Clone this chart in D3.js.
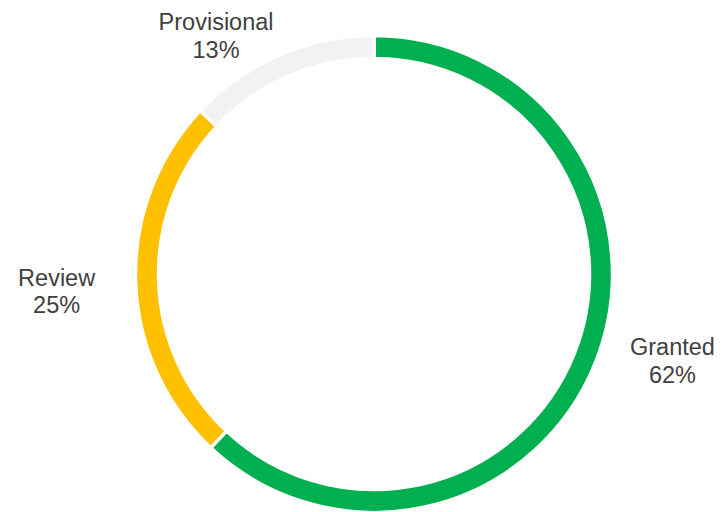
<!DOCTYPE html>
<html>
<head>
<meta charset="utf-8">
<script src="https://cdn.jsdelivr.net/npm/d3@7"></script>
<style>
  html, body { margin: 0; padding: 0; background: #fff; }
  svg { display: block; }
</style>
</head>
<body>
<svg id="chart" width="728" height="512"></svg>
<script>
const categories = ["Granted", "Review", "Provisional"];
const values = [62, 25, 13];
const colors = ["#00B050", "#FFC000", "#F2F2F2"];

const W = 728, H = 512;
const cx = 374, cy = 274;
const outerR = 238.5, innerR = 215.5;
const fontSize = 23.5, lineH = 27.5;

const svg = d3.select("#chart");
const g = svg.append("g").attr("transform", `translate(${cx},${cy})`);

const data = categories.map((c, i) => ({ name: c, value: values[i], color: colors[i] }));
const pie = d3.pie().value(d => d.value).sort(null);
const arcs = pie(data);
const arc = d3.arc().innerRadius(innerR).outerRadius(outerR);

g.selectAll("path.slice")
  .data(arcs)
  .join("path")
  .attr("class", "slice")
  .attr("d", arc)
  .attr("fill", d => d.data.color)
  .attr("stroke", "#fff")
  .attr("stroke-width", 3.5);

const total = d3.sum(values);
const fmt = v => Math.round(v / total * 100) + "%";

const labels = g.selectAll("g.lbl")
  .data(arcs)
  .join("g")
  .attr("class", "lbl");

labels.each(function(d) {
  const sel = d3.select(this);
  const t = sel.append("text")
    .attr("text-anchor", "middle")
    .attr("font-family", "Arial, 'Liberation Sans', sans-serif")
    .attr("font-size", fontSize)
    .attr("fill", "#404040");
  t.append("tspan").attr("x", 0).attr("y", -lineH / 2 + fontSize * 0.36).text(d.data.name);
  t.append("tspan").attr("x", 0).attr("y", lineH / 2 + fontSize * 0.36).text(fmt(d.data.value));
  const bb = t.node().getBBox();
  const w = bb.width, h = lineH * 2 - 4;
  const a = (d.startAngle + d.endAngle) / 2;
  const s = Math.sin(a), c = -Math.cos(a);
  const R = outerR + 40;
  let x = (R + w / 2) * s;
  let y = 0.74 * R * c + 10.5;
  // labels near the top are pinned to the top edge and slid sideways to clear the ring
  if (c < -0.8) {
    y = -cy + h / 2 + 10;
    const edgeY = Math.abs(y) - h / 2;
    const dx = Math.sqrt(Math.max(0, (outerR - 3) ** 2 - edgeY ** 2));
    x = Math.sign(s) * (dx + w / 2);
  }
  sel.attr("transform", `translate(${x},${y})`);
});
</script>
</body>
</html>
